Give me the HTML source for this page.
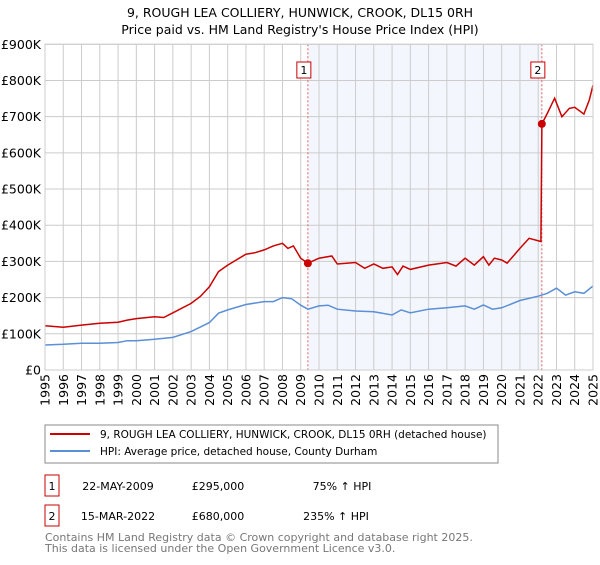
<!DOCTYPE html>
<html><head><meta charset="utf-8"><style>
body{margin:0;background:#fff;font-family:"Liberation Sans","DejaVu Sans",sans-serif}
svg text{font-family:"DejaVu Sans","Liberation Sans",sans-serif}
</style></head><body>
<svg id="c" width="600" height="560" viewBox="0 0 600 560" xmlns="http://www.w3.org/2000/svg">
<text x="300" y="17" text-anchor="middle" font-size="12.5">9, ROUGH LEA COLLIERY, HUNWICK, CROOK, DL15 0RH</text>
<text x="300" y="34" text-anchor="middle" font-size="12.5">Price paid vs. HM Land Registry's House Price Index (HPI)</text>
<g id="plot"></g>
<rect x="45" y="425" width="453" height="38" fill="#fff" stroke="#888"/>
<line x1="50" y1="434" x2="90" y2="434" stroke="#cc0000" stroke-width="2"/>
<text x="100" y="438" font-size="10.5">9, ROUGH LEA COLLIERY, HUNWICK, CROOK, DL15 0RH (detached house)</text>
<line x1="50" y1="451" x2="90" y2="451" stroke="#5b8fd6" stroke-width="2"/>
<text x="100" y="455" font-size="10.5">HPI: Average price, detached house, County Durham</text>
<g>
<rect x="45" y="475" width="14" height="21" fill="#fff" stroke="#cc0000"/><text x="52" y="490" text-anchor="middle" font-size="11">1</text>
<text x="118" y="490" text-anchor="middle" font-size="11">22-MAY-2009</text>
<text x="218" y="490" text-anchor="middle" font-size="11">£295,000</text>
<text x="342" y="490" text-anchor="middle" font-size="11">75% ↑ HPI</text></g>
<g>
<rect x="45" y="505" width="14" height="21" fill="#fff" stroke="#cc0000"/><text x="52" y="520" text-anchor="middle" font-size="11">2</text>
<text x="118" y="520" text-anchor="middle" font-size="11">15-MAR-2022</text>
<text x="218" y="520" text-anchor="middle" font-size="11">£680,000</text>
<text x="336" y="520" text-anchor="middle" font-size="11">235% ↑ HPI</text></g>
<text x="45" y="541" font-size="11" fill="#777">Contains HM Land Registry data © Crown copyright and database right 2025.</text>
<text x="45" y="552" font-size="11" fill="#777">This data is licensed under the Open Government Licence v3.0.</text>
</svg>
<script>
const yTicks=[0,100,200,300,400,500,600,700,800,900];
const yTickLabels=["£0","£100K","£200K","£300K","£400K","£500K","£600K","£700K","£800K","£900K"];
const xYears=[1995,1996,1997,1998,1999,2000,2001,2002,2003,2004,2005,2006,2007,2008,2009,2010,2011,2012,2013,2014,2015,2016,2017,2018,2019,2020,2021,2022,2023,2024,2025];
const hpiT=[1995,1996,1997,1998,1999,1999.5,2000,2001,2002,2003,2004,2004.5,2005,2006,2007,2007.5,2008,2008.5,2009,2009.4,2010,2010.5,2011,2012,2013,2014,2014.5,2015,2016,2017,2018,2018.5,2019,2019.5,2020,2021,2022,2022.5,2023,2023.5,2024,2024.5,2025];
const hpiV=[69,71,74,74,76,81,81,85,90,106,131,157,166,181,189,189,200,197,179,168,177,179,168,163,161,152,166,158,168,172,177,168,180,168,172,192,204,212,226,207,216,212,232];
const propT=[1995,1996,1997,1998,1999,1999.5,2000,2001,2001.5,2002,2003,2003.5,2004,2004.5,2005,2006,2006.5,2007,2007.5,2008,2008.3,2008.6,2009,2009.39,2010,2010.7,2011,2012,2012.5,2013,2013.5,2014,2014.3,2014.6,2015,2016,2017,2017.5,2018,2018.5,2019,2019.3,2019.6,2020,2020.3,2021,2021.5,2022.15,2022.2,2022.5,2022.9,2023.3,2023.7,2024,2024.5,2024.8,2025];
const propV=[122,118,124,129,132,138,142,147,145,158,184,203,230,272,290,320,324,332,343,350,336,343,309,295,309,315,293,297,281,293,281,285,264,287,278,290,297,287,309,290,313,290,309,304,295,336,364,355,680,709,751,700,723,726,707,746,787];
const saleT=[2009.39,2022.2];
const saleV=[295,680];
const saleLabels=["1","2"];
const X0=45,X1=593,Y0=370,Y1=44.3;
const sx=t=>X0+(t-1995)/30*(X1-X0);
const sy=v=>Y0-v/900*(Y0-Y1);
const NS="http://www.w3.org/2000/svg";
const g=document.getElementById('plot');
function mk(tag,attrs){const e=document.createElementNS(NS,tag);for(const k in attrs)e.setAttribute(k,attrs[k]);g.appendChild(e);return e;}
let e=mk('rect',{x:X0,y:Y1,width:X1-X0,height:Y0-Y1,fill:'#fff'});


e=mk('rect',{x:sx(saleT[0]),y:Y1,width:sx(saleT[1])-sx(saleT[0]),height:Y0-Y1,fill:'#eef3fc',opacity:0.7});


xYears.forEach(t=>{e=mk('line',{x1:sx(t),x2:sx(t),y1:Y1,y2:Y0,stroke:'#ccc','stroke-width':1});


e=mk('text',{x:0,y:0,'font-size':12.5,'text-anchor':'end',transform:`translate(${sx(t)+4.5},374) rotate(-90)`});e.textContent=t;

});
yTicks.forEach((v,i)=>{e=mk('line',{x1:X0,x2:X1,y1:sy(v),y2:sy(v),stroke:'#ccc','stroke-width':1});


e=mk('text',{x:41,y:sy(v)+4.5,'font-size':12.5,'text-anchor':'end'});e.textContent=yTickLabels[i];

});
saleT.forEach((t,i)=>{e=mk('line',{x1:sx(t),x2:sx(t),y1:Y1,y2:Y0,stroke:'#e06060','stroke-width':1,'stroke-dasharray':'2,2'});

});
const path=(T,V)=>T.map((t,i)=>(i?'L':'M')+sx(t).toFixed(1)+','+sy(V[i]).toFixed(1)).join('');
e=mk('path',{d:path(hpiT,hpiV),fill:'none',stroke:'#5b8fd6','stroke-width':1.5});


e=mk('path',{d:path(propT,propV),fill:'none',stroke:'#cc0000','stroke-width':1.5});


saleT.forEach((t,i)=>{e=mk('circle',{cx:sx(t),cy:sy(saleV[i]),r:4,fill:'#cc0000'});


e=mk('rect',{x:sx(t)-11,y:62,width:14,height:16,fill:'#fff',stroke:'#cc0000'});


e=mk('text',{x:sx(t)-4,y:74,'font-size':11,'text-anchor':'middle'});e.textContent=saleLabels[i];

});
e=mk('rect',{x:X0,y:Y1,width:X1-X0,height:Y0-Y1,fill:'none',stroke:'#ccc'});


</script>
</body></html>
